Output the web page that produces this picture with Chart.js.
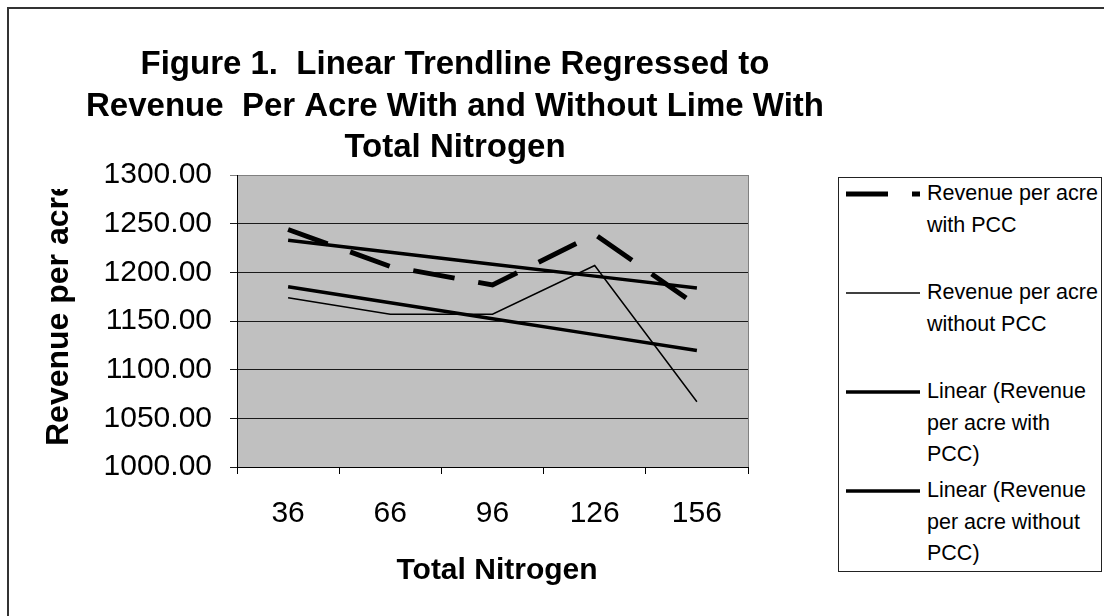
<!DOCTYPE html>
<html>
<head>
<meta charset="utf-8">
<title>Revenue per acre and total nitrogen</title>
<script src="https://cdn.jsdelivr.net/npm/chart.js@4.4.0/dist/chart.umd.min.js"></script>
<style>
  html, body { margin: 0; padding: 0; background: #fff; }
  #wrap { position: relative; width: 1104px; height: 616px; }
  #legend {
    position: absolute; left: 838px; top: 177px; width: 264px; height: 395px;
    border: 1px solid #222; box-sizing: border-box; background: #fff;
    font-family: 'Liberation Sans', Arial, sans-serif; font-size: 21.5px; line-height: 31.5px; color: #000;
  }
  .item { position: relative; height: 99px; }
  .item svg { position: absolute; left: 7px; top: 0; }
  .item span { position: absolute; left: 88px; top: 0; width: 174px; }
</style>
</head>
<body>
<div id="wrap">
  <canvas id="revenueChart" width="1104" height="616"></canvas>
  <div id="legend"></div>
</div>
<script>
const nitrogenLevels = ['36', '66', '96', '126', '156'];
const revenueWithPcc = [1244, 1206, 1187, 1239, 1166];
const revenueWithoutPcc = [1174, 1157, 1157, 1207, 1067];
const yMin = 1000;
const yMax = 1300;
const yStep = 50;
const seriesLabels = [
    'Revenue per acre with PCC',
    'Revenue per acre without PCC',
    'Linear (Revenue per acre with PCC)',
    'Linear (Revenue per acre without PCC)'
];
const titleLines = [
    'Figure 1.  Linear Trendline Regressed to',
    'Revenue  Per Acre With and Without Lime With',
    'Total Nitrogen'
];
const FONT = "'Liberation Sans', Arial, sans-serif";

// least squares line over the category index
function linearTrend(values) {
    const n = values.length;
    const meanX = (n - 1) / 2;
    const meanY = values.reduce((sum, v) => sum + v, 0) / n;
    let num = 0, den = 0;
    values.forEach((v, i) => {
        num += (i - meanX) * (v - meanY);
        den += (i - meanX) * (i - meanX);
    });
    const slope = num / den;
    return values.map((v, i) => meanY + slope * (i - meanX));
}

// background, plot fill, frame and all the text
const chartFrame = {
    id: 'chartFrame',
    beforeDraw(chart) {
        const { ctx, chartArea: a } = chart;
        ctx.save();
        ctx.fillStyle = '#fff';
        ctx.fillRect(0, 0, chart.width, chart.height);
        ctx.strokeStyle = '#333';
        ctx.lineWidth = 2;
        ctx.strokeRect(8, 8, chart.width + 20, chart.height + 20);
        ctx.fillStyle = '#c0c0c0';
        ctx.fillRect(a.left, a.top, a.right - a.left, a.bottom - a.top);
        ctx.restore();
    },
    beforeDatasetsDraw(chart) {
        const { ctx, chartArea: a } = chart;
        ctx.save();
        ctx.strokeStyle = '#808080';
        ctx.lineWidth = 1;
        ctx.beginPath();
        ctx.moveTo(Math.round(a.right) + 0.5, a.top);
        ctx.lineTo(Math.round(a.right) + 0.5, a.bottom);
        ctx.stroke();
        ctx.restore();
    },
    afterDraw(chart) {
        const ctx = chart.ctx;
        ctx.save();
        ctx.fillStyle = '#000';
        ctx.textAlign = 'center';
        ctx.textBaseline = 'alphabetic';
        ctx.font = 'bold 33px ' + FONT;
        titleLines.forEach((line, i) => ctx.fillText(line, 455, 74 + i * 41.5));

        ctx.font = 'bold 30px ' + FONT;
        ctx.fillText('Total Nitrogen', 497, 579);

        // y title is clipped at its top like the original frame
        ctx.beginPath();
        ctx.rect(0, 189, 120, 300);
        ctx.clip();
        ctx.translate(68, 446);
        ctx.rotate(-Math.PI / 2);
        ctx.textAlign = 'left';
        ctx.font = 'bold 32px ' + FONT;
        ctx.fillText('Revenue per acre', 0, 0);
        ctx.restore();
    }
};

// legend as html so the long labels wrap
const htmlLegend = {
    id: 'htmlLegend',
    afterUpdate(chart) {
        const box = document.getElementById('legend');
        box.innerHTML = '';
        const svgNS = 'http://www.w3.org/2000/svg';
        chart.data.datasets.forEach(ds => {
            const item = document.createElement('div');
            item.className = 'item';
            const svg = document.createElementNS(svgNS, 'svg');
            svg.setAttribute('width', 74);
            svg.setAttribute('height', 32);
            const line = document.createElementNS(svgNS, 'line');
            line.setAttribute('x1', 0);
            line.setAttribute('x2', 74);
            line.setAttribute('y1', 16);
            line.setAttribute('y2', 16);
            line.setAttribute('stroke', ds.borderColor);
            line.setAttribute('stroke-width', ds.borderWidth);
            if (ds.borderDash) line.setAttribute('stroke-dasharray', ds.borderDash.join(' '));
            svg.appendChild(line);
            const text = document.createElement('span');
            text.textContent = ds.label;
            item.appendChild(svg);
            item.appendChild(text);
            box.appendChild(item);
        });
    }
};

const ctx = document.getElementById('revenueChart').getContext('2d');
const revenueChart = new Chart(ctx, {
    type: 'line',
    data: {
        labels: nitrogenLevels,
        datasets: [
            {
                label: seriesLabels[0],
                data: revenueWithPcc,
                borderColor: '#000',
                borderWidth: 5,
                borderDash: [42, 24],
                pointRadius: 0,
                tension: 0
            },
            {
                label: seriesLabels[1],
                data: revenueWithoutPcc,
                borderColor: '#000',
                borderWidth: 1.5,
                pointRadius: 0,
                tension: 0
            },
            {
                label: seriesLabels[2],
                data: linearTrend(revenueWithPcc),
                borderColor: '#000',
                borderWidth: 3.5,
                pointRadius: 0,
                tension: 0
            },
            {
                label: seriesLabels[3],
                data: linearTrend(revenueWithoutPcc),
                borderColor: '#000',
                borderWidth: 3.5,
                pointRadius: 0,
                tension: 0
            }
        ]
    },
    options: {
        responsive: false,
        animation: false,
        devicePixelRatio: 1,
        layout: { padding: { left: 0, top: 175, right: 356, bottom: 0 } },
        plugins: {
            legend: { display: false },
            title: { display: false },
            tooltip: { enabled: false }
        },
        scales: {
            x: {
                offset: true,
                afterFit: scale => { scale.height = 149; },
                border: { color: '#000', width: 1 },
                grid: { offset: true, drawOnChartArea: false, tickLength: 7, color: '#000' },
                ticks: { color: '#000', font: { family: FONT, size: 30 }, padding: 22, maxRotation: 0 }
            },
            y: {
                min: yMin,
                max: yMax,
                afterFit: scale => { scale.width = 237; },
                border: { color: '#000', width: 1 },
                grid: {
                    tickLength: 7,
                    color: c => (c.tick && c.tick.value === yMax ? '#808080' : '#1a1a1a')
                },
                ticks: {
                    stepSize: yStep,
                    color: '#000',
                    padding: 18,
                    font: { family: FONT, size: 30 },
                    callback: value => value.toFixed(2)
                }
            }
        }
    },
    plugins: [chartFrame, htmlLegend]
});
</script>
</body>
</html>
